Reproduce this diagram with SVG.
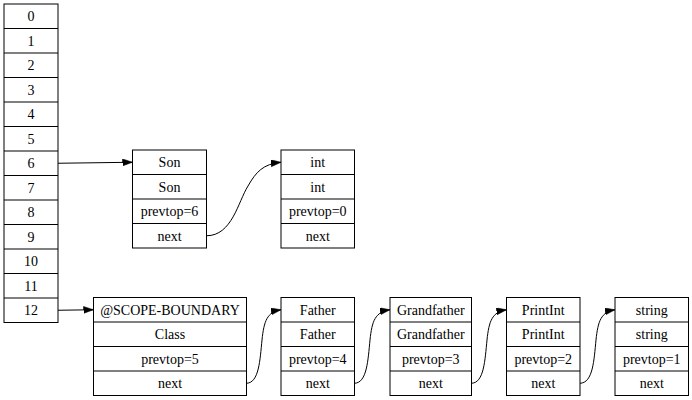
<svg xmlns="http://www.w3.org/2000/svg" width="692" height="400" viewBox="0 0 692 400">
<style>
rect{fill:#fff;stroke:#000;stroke-width:1}
line.sep{stroke:#000;stroke-width:1}
text{font-family:"Liberation Serif","Times New Roman",serif;font-size:14px;fill:#000;text-anchor:middle}
.edge{fill:none;stroke:#000;stroke-width:1;marker-end:url(#arr)}
</style>
<defs>
<marker id="arr" markerUnits="userSpaceOnUse" markerWidth="11" markerHeight="8" refX="10" refY="3.5" orient="auto">
<path d="M0,0 L10,3.5 L0,7 z" fill="#000" stroke="#000" stroke-width="0.5"/>
</marker>
</defs>
<rect x="0" y="0" width="692" height="400" style="stroke:none"/>
<g id="stack">
<rect x="4" y="4" width="54" height="318.5"/>
<line class="sep" x1="4" y1="28.5" x2="58" y2="28.5"/>
<line class="sep" x1="4" y1="53" x2="58" y2="53"/>
<line class="sep" x1="4" y1="77.5" x2="58" y2="77.5"/>
<line class="sep" x1="4" y1="102" x2="58" y2="102"/>
<line class="sep" x1="4" y1="126.5" x2="58" y2="126.5"/>
<line class="sep" x1="4" y1="151" x2="58" y2="151"/>
<line class="sep" x1="4" y1="175.5" x2="58" y2="175.5"/>
<line class="sep" x1="4" y1="200" x2="58" y2="200"/>
<line class="sep" x1="4" y1="224.5" x2="58" y2="224.5"/>
<line class="sep" x1="4" y1="249" x2="58" y2="249"/>
<line class="sep" x1="4" y1="273.5" x2="58" y2="273.5"/>
<line class="sep" x1="4" y1="298" x2="58" y2="298"/>
<text x="31" y="21.2">0</text>
<text x="31" y="45.7">1</text>
<text x="31" y="70.2">2</text>
<text x="31" y="94.7">3</text>
<text x="31" y="119.2">4</text>
<text x="31" y="143.7">5</text>
<text x="31" y="168.2">6</text>
<text x="31" y="192.7">7</text>
<text x="31" y="217.2">8</text>
<text x="31" y="241.7">9</text>
<text x="31" y="266.2">10</text>
<text x="31" y="290.7">11</text>
<text x="31" y="315.2">12</text>
</g>
<g id="son">
<rect x="132.5" y="150" width="74" height="98"/>
<line class="sep" x1="132.5" y1="174.5" x2="206.5" y2="174.5"/>
<line class="sep" x1="132.5" y1="199" x2="206.5" y2="199"/>
<line class="sep" x1="132.5" y1="223.5" x2="206.5" y2="223.5"/>
<text x="169.5" y="167.2">Son</text>
<text x="169.5" y="191.7">Son</text>
<text x="169.5" y="216.2">prevtop=6</text>
<text x="169.5" y="240.7">next</text>
</g>
<g id="int">
<rect x="281" y="150" width="73.5" height="98"/>
<line class="sep" x1="281" y1="174.5" x2="354.5" y2="174.5"/>
<line class="sep" x1="281" y1="199" x2="354.5" y2="199"/>
<line class="sep" x1="281" y1="223.5" x2="354.5" y2="223.5"/>
<text x="317.75" y="167.2">int</text>
<text x="317.75" y="191.7">int</text>
<text x="317.75" y="216.2">prevtop=0</text>
<text x="317.75" y="240.7">next</text>
</g>
<g id="scope">
<rect x="93.5" y="297.5" width="153" height="98"/>
<line class="sep" x1="93.5" y1="322" x2="246.5" y2="322"/>
<line class="sep" x1="93.5" y1="346.5" x2="246.5" y2="346.5"/>
<line class="sep" x1="93.5" y1="371" x2="246.5" y2="371"/>
<text x="170" y="314.7">@SCOPE-BOUNDARY</text>
<text x="170" y="339.2">Class</text>
<text x="170" y="363.7">prevtop=5</text>
<text x="170" y="388.2">next</text>
</g>
<g id="father">
<rect x="281" y="297.5" width="73.5" height="98"/>
<line class="sep" x1="281" y1="322" x2="354.5" y2="322"/>
<line class="sep" x1="281" y1="346.5" x2="354.5" y2="346.5"/>
<line class="sep" x1="281" y1="371" x2="354.5" y2="371"/>
<text x="317.75" y="314.7">Father</text>
<text x="317.75" y="339.2">Father</text>
<text x="317.75" y="363.7">prevtop=4</text>
<text x="317.75" y="388.2">next</text>
</g>
<g id="grandfather">
<rect x="390" y="297.5" width="81.5" height="98"/>
<line class="sep" x1="390" y1="322" x2="471.5" y2="322"/>
<line class="sep" x1="390" y1="346.5" x2="471.5" y2="346.5"/>
<line class="sep" x1="390" y1="371" x2="471.5" y2="371"/>
<text x="430.75" y="314.7">Grandfather</text>
<text x="430.75" y="339.2">Grandfather</text>
<text x="430.75" y="363.7">prevtop=3</text>
<text x="430.75" y="388.2">next</text>
</g>
<g id="printint">
<rect x="506.5" y="297.5" width="73.5" height="98"/>
<line class="sep" x1="506.5" y1="322" x2="580" y2="322"/>
<line class="sep" x1="506.5" y1="346.5" x2="580" y2="346.5"/>
<line class="sep" x1="506.5" y1="371" x2="580" y2="371"/>
<text x="543.25" y="314.7">PrintInt</text>
<text x="543.25" y="339.2">PrintInt</text>
<text x="543.25" y="363.7">prevtop=2</text>
<text x="543.25" y="388.2">next</text>
</g>
<g id="string">
<rect x="615" y="297.5" width="73.5" height="98"/>
<line class="sep" x1="615" y1="322" x2="688.5" y2="322"/>
<line class="sep" x1="615" y1="346.5" x2="688.5" y2="346.5"/>
<line class="sep" x1="615" y1="371" x2="688.5" y2="371"/>
<text x="651.75" y="314.7">string</text>
<text x="651.75" y="339.2">string</text>
<text x="651.75" y="363.7">prevtop=1</text>
<text x="651.75" y="388.2">next</text>
</g>
<g id="connectors">
<path class="edge" d="M58,163.25 L132.5,162.25"/>
<path class="edge" d="M58,310.25 L93.5,309.75"/>
<path class="edge" d="M206.5,235.75 C232,235.75 238,202 248,186 C256,172 263,164 281,162.25"/>
<path class="edge" d="M246.5,383.25 C259,383 260,360 262,340 C264,321 267,312 281,309.75"/>
<path class="edge" d="M354.5,383.25 C367,383 368,360 370,340 C372,321 375,312 390,309.75"/>
<path class="edge" d="M471.5,383.25 C484,383 485,360 487,340 C489,321 492,312 506.5,309.75"/>
<path class="edge" d="M580,383.25 C593,383 594,360 596,340 C598,321 601,312 615,309.75"/>
</g>
</svg>
